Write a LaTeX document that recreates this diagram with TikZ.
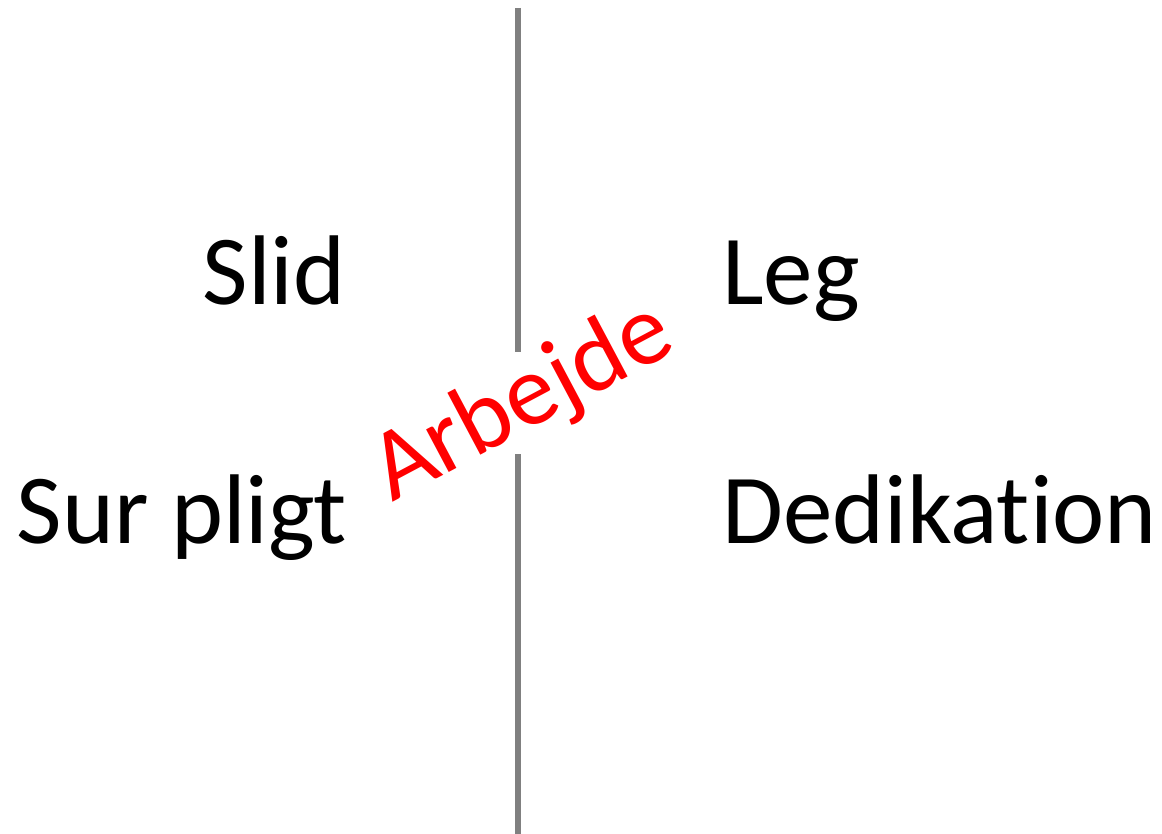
\documentclass[tikz,border=0pt]{standalone}
\usepackage{fontspec}
\setmainfont[Ligatures={NoCommon}]{Carlito}
\begin{document}
\begin{tikzpicture}[x=1pt,y=-1pt,
  lbl/.style={inner sep=0pt,font=\fontsize{99}{110}\selectfont},
  divider/.style={draw=gray,line width=5.5pt}]
\useasboundingbox (0,0) rectangle (1162,834);
\coordinate (t1) at (518,8);
\coordinate (t2) at (518,352);
\coordinate (b1) at (518,454);
\coordinate (b2) at (518,834);
\draw[divider] (t1) -- (t2);
\draw[divider] (b1) -- (b2);
\node[lbl,anchor=base east] (slid) at (346,305) {Slid};
\node[lbl,anchor=base east] (sur) at (347,543) {Sur pligt};
\node[lbl,anchor=base west] (leg) at (722,305) {Leg};
\node[lbl,anchor=base west] (ded) at (722,543) {Dedikation};
\node[lbl,text=red,rotate=28,font=\fontsize{101}{110}\selectfont] (arb) at (523,403) {Arbejde};
\end{tikzpicture}
\end{document}
